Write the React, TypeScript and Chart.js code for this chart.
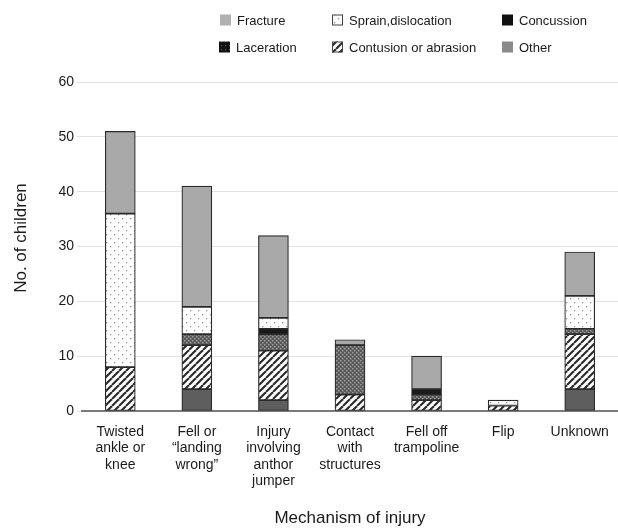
import React, { useEffect, useRef } from "react";
import { Chart, registerables } from "chart.js";

Chart.register(...registerables);

const categories: string[][] = [
  ["Twisted", "ankle or", "knee"],
  ["Fell or", "\u201Clanding", "wrong\u201D"],
  ["Injury", "involving", "anthor", "jumper"],
  ["Contact", "with", "structures"],
  ["Fell off", "trampoline"],
  ["Flip"],
  ["Unknown"],
];

const other = [0, 4, 2, 0, 0, 0, 4];
const contusion = [8, 8, 9, 3, 2, 1, 10];
const laceration = [0, 2, 3, 9, 1, 0, 1];
const concussion = [0, 0, 1, 0, 1, 0, 0];
const sprain = [28, 5, 2, 0, 0, 1, 6];
const fracture = [15, 22, 15, 1, 6, 0, 8];

const yTicks = [0, 10, 20, 30, 40, 50, 60];

const FONT = '"Liberation Sans", Arial, Helvetica, sans-serif';

function makePattern(kind: string): CanvasPattern | string {
  const c = document.createElement("canvas");
  const ctx = c.getContext("2d")!;
  if (kind === "hatch") {
    c.width = 7;
    c.height = 7;
    ctx.fillStyle = "#ffffff";
    ctx.fillRect(0, 0, 7, 7);
    ctx.strokeStyle = "#2a2a2a";
    ctx.lineWidth = 2.1;
    for (let o = -7; o <= 7; o += 7) {
      ctx.beginPath();
      ctx.moveTo(o, 7);
      ctx.lineTo(o + 7, 0);
      ctx.stroke();
    }
  } else if (kind === "dots") {
    c.width = 8;
    c.height = 8;
    ctx.fillStyle = "#ffffff";
    ctx.fillRect(0, 0, 8, 8);
    ctx.fillStyle = "#8f8f8f";
    ctx.fillRect(2, 2, 1.3, 1.3);
    ctx.fillRect(6, 6, 1.3, 1.3);
  } else if (kind === "lac") {
    c.width = 4;
    c.height = 4;
    ctx.fillStyle = "#5a5a5a";
    ctx.fillRect(0, 0, 4, 4);
    ctx.fillStyle = "#9a9a9a";
    ctx.fillRect(0, 0, 1.5, 1.5);
    ctx.fillRect(2, 2, 1.5, 1.5);
  } else if (kind === "lacLegend") {
    c.width = 4;
    c.height = 4;
    ctx.fillStyle = "#111111";
    ctx.fillRect(0, 0, 4, 4);
    ctx.fillStyle = "#555555";
    ctx.fillRect(1, 1, 1.2, 1.2);
  }
  const p = ctx.createPattern(c, "repeat");
  return p || "#999";
}

export default function App() {
  const ref = useRef<HTMLCanvasElement>(null);

  useEffect(() => {
    document.body.style.margin = "0";
    const hatch = makePattern("hatch");
    const dots = makePattern("dots");
    const lac = makePattern("lac");
    const lacLegend = makePattern("lacLegend");

    const nz = (arr: number[]) => arr.map((v) => (v === 0 ? null : v));

    const legendItems = [
      { label: "Fracture", fill: "#b0b0b0", stroke: null as string | null, x: 220, y: 20 },
      { label: "Sprain,dislocation", fill: dots, stroke: "#444", x: 332, y: 20 },
      { label: "Concussion", fill: "#111111", stroke: null, x: 502, y: 20 },
      { label: "Laceration", fill: lacLegend, stroke: null, x: 219, y: 47 },
      { label: "Contusion or abrasion", fill: hatch, stroke: "#444", x: 332, y: 47 },
      { label: "Other", fill: "#8a8a8a", stroke: null, x: 502, y: 47 },
    ];

    const legendPlugin = {
      id: "customLegend",
      afterDraw(chart: any) {
        const ctx = chart.ctx as CanvasRenderingContext2D;
        ctx.save();
        ctx.font = `13px ${FONT}`;
        ctx.textBaseline = "middle";
        ctx.textAlign = "left";
        for (const it of legendItems) {
          const bx = it.x;
          const by = it.y - 5.5;
          ctx.fillStyle = it.fill as any;
          ctx.fillRect(bx, by, 11, 11);
          if (it.stroke) {
            ctx.strokeStyle = it.stroke;
            ctx.lineWidth = 1;
            ctx.strokeRect(bx + 0.5, by + 0.5, 10, 10);
          }
          ctx.fillStyle = "#1a1a1a";
          ctx.fillText(it.label, bx + 17, it.y + 1);
        }
        // y-axis title
        ctx.save();
        ctx.translate(21, 238);
        ctx.rotate(-Math.PI / 2);
        ctx.font = `17px ${FONT}`;
        ctx.textAlign = "center";
        ctx.textBaseline = "middle";
        ctx.fillStyle = "#1a1a1a";
        ctx.fillText("No. of children", 0, 0);
        ctx.restore();
        ctx.restore();
      },
    };

    const border = "#2a2a2a";
    const ds = (label: string, data: number[], bg: any) => ({
      label,
      data: nz(data),
      backgroundColor: bg,
      borderColor: border,
      borderWidth: 1.2,
      borderSkipped: false,
      barThickness: 30,
    });

    const chart = new Chart(ref.current!, {
      type: "bar",
      data: {
        labels: categories,
        datasets: [
          ds("Other", other, "#5e5e5e"),
          ds("Contusion or abrasion", contusion, hatch),
          ds("Laceration", laceration, lac),
          ds("Concussion", concussion, "#1a1a1a"),
          ds("Sprain,dislocation", sprain, dots),
          ds("Fracture", fracture, "#a9a9a9"),
        ] as any,
      },
      options: {
        animation: false,
        responsive: true,
        maintainAspectRatio: false,
        layout: { padding: { top: 82, left: 0, right: 0, bottom: 0 } },
        plugins: {
          legend: { display: false },
          tooltip: { enabled: false },
        },
        scales: {
          x: {
            stacked: true,
            grid: { display: false, drawTicks: false },
            border: { display: true, color: "#7a7a7a", width: 2 },
            ticks: {
              color: "#1a1a1a",
              font: { family: FONT, size: 14, lineHeight: 1.17 },
              padding: 13,
              maxRotation: 0,
              autoSkip: false,
            },
            title: {
              display: true,
              text: "Mechanism of injury",
              color: "#1a1a1a",
              font: { family: FONT, size: 17 },
              padding: { top: 0, bottom: 0 },
            },
            afterFit(scale: any) {
              scale.height = 118;
              scale.paddingRight = 0;
              scale.paddingLeft = 0;
            },
          },
          y: {
            stacked: true,
            min: 0,
            max: 60,
            afterBuildTicks(scale: any) {
              scale.ticks = yTicks.map((v) => ({ value: v }));
            },
            grid: { color: "#e2e2e2", lineWidth: 1, tickLength: 5 },
            border: { display: false },
            ticks: {
              color: "#1a1a1a",
              font: { family: FONT, size: 14 },
              padding: 3,
            },
            title: { display: false },
            afterFit(scale: any) {
              scale.width = 82;
            },
          },
        },
      },
      plugins: [legendPlugin],
    });
    return () => chart.destroy();
  }, []);

  return (
    <div style={{ width: 618, height: 529, position: "relative" }}>
      <canvas ref={ref} />
    </div>
  );
}
